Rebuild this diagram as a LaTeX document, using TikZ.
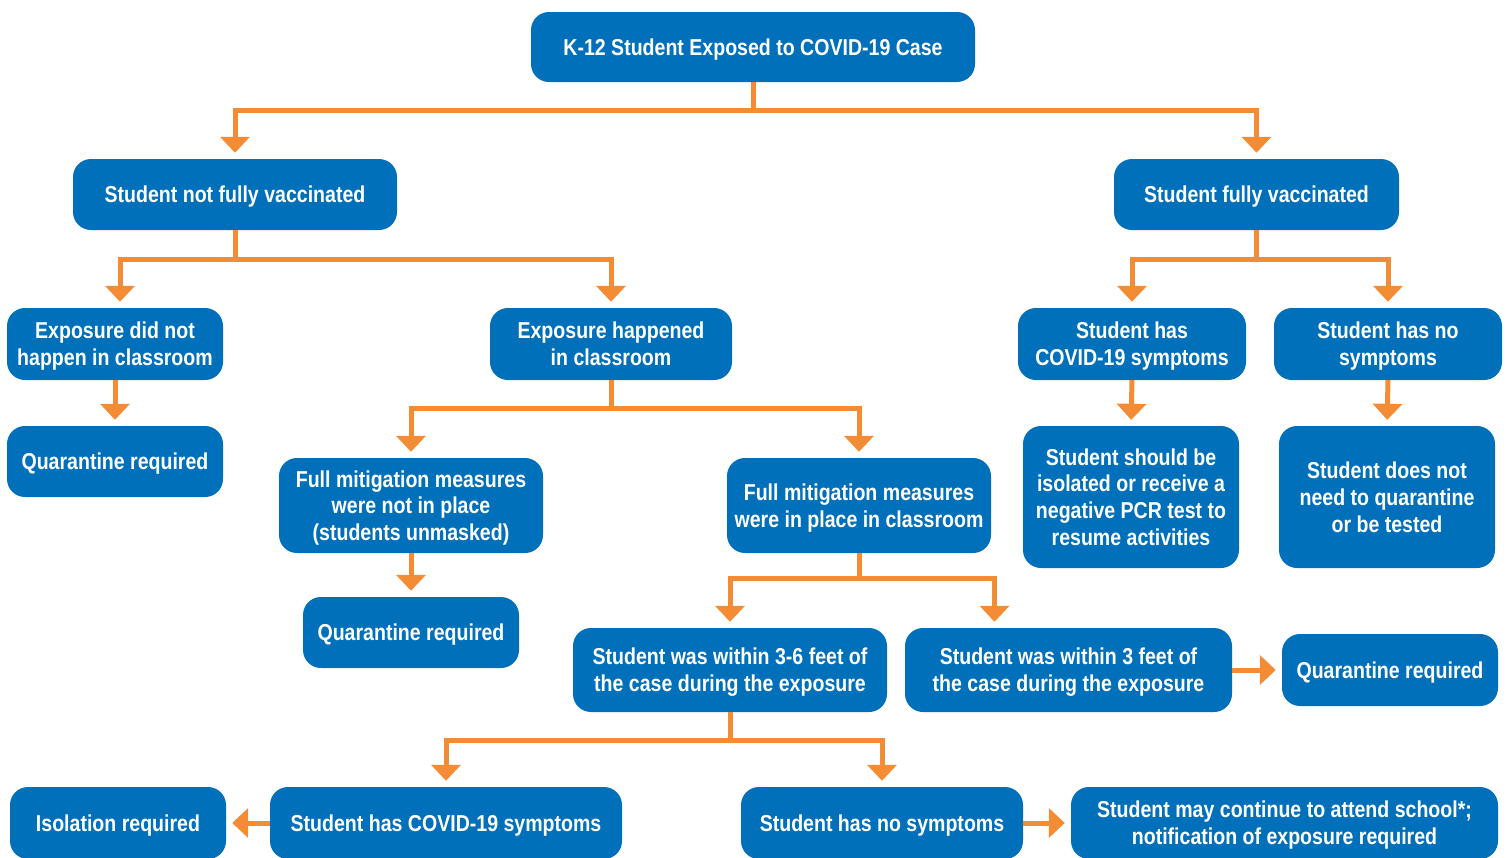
\documentclass[tikz,border=0pt]{standalone}
\usepackage{fontspec}
\setmainfont{Liberation Sans}[FakeStretch=0.85]
\usetikzlibrary{arrows.meta}
\definecolor{boxblue}{RGB}{0,112,186}
\definecolor{lineorange}{RGB}{244,140,54}
\tikzset{
  box/.style={fill=boxblue, rounded corners=18pt, text=white, align=center, inner sep=0pt,
    text depth=0pt, font=\fontsize{23}{26.7}\selectfont\bfseries},
  conn/.style={draw=lineorange, line width=5pt, -{Triangle[width=29pt,length=16pt]}, shorten >=6pt},
}
\begin{document}
\begin{tikzpicture}[x=1pt,y=-1pt]
\useasboundingbox (0,0) rectangle (1507,857);
\clip (0,0) rectangle (1507,857);
% nodes
\node[box, minimum width=444pt, minimum height=70pt] (top) at (753,47) {K-12 Student Exposed to COVID-19 Case};
\node[box, minimum width=324pt, minimum height=71pt] (nfv) at (235,194.5) {Student not fully vaccinated};
\node[box, minimum width=285pt, minimum height=71pt] (fv) at (1256.5,194.5) {Student fully vaccinated};
\node[box, minimum width=216pt, minimum height=72pt] (notcls) at (115,344) {Exposure did not\\happen in classroom};
\node[box, minimum width=216pt, minimum height=71pt] (q1) at (115,461.5) {Quarantine required};
\node[box, minimum width=242pt, minimum height=72pt] (cls) at (611,344) {Exposure happened\\in classroom};
\node[box, minimum width=264pt, minimum height=95pt] (fmn) at (411,505.5) {Full mitigation measures\\were not in place\\(students unmasked)};
\node[box, minimum width=216pt, minimum height=71pt] (q2) at (411,632.5) {Quarantine required};
\node[box, minimum width=264pt, minimum height=95pt] (fmy) at (859,505.5) {Full mitigation measures\\were in place in classroom};
\node[box, minimum width=314pt, minimum height=84pt] (f36) at (730,670) {Student was within 3-6 feet of\\the case during the exposure};
\node[box, minimum width=327pt, minimum height=84pt] (f3) at (1068.5,670) {Student was within 3 feet of\\the case during the exposure};
\node[box, minimum width=216pt, minimum height=72pt] (q3) at (1390,670) {Quarantine required};
\node[box, minimum width=216pt, minimum height=72pt] (iso) at (118,823) {Isolation required};
\node[box, minimum width=352pt, minimum height=72pt] (sym) at (446,823) {Student has COVID-19 symptoms};
\node[box, minimum width=282pt, minimum height=72pt] (nosym) at (882,823) {Student has no symptoms};
\node[box, minimum width=427pt, minimum height=72pt] (cont) at (1284.5,823) {Student may continue to attend school*;\\notification of exposure required};
\node[box, minimum width=228pt, minimum height=72pt] (rsym) at (1132,344) {Student has\\COVID-19 symptoms};
\node[box, minimum width=228pt, minimum height=72pt] (rnos) at (1388,344) {Student has no\\symptoms};
\node[box, minimum width=216pt, minimum height=142pt] (iso2) at (1131,497) {Student should be\\isolated or receive a\\negative PCR test to\\resume activities};
\node[box, minimum width=216pt, minimum height=142pt] (noq) at (1387,497) {Student does not\\need to quarantine\\or be tested};
% connectors
\draw[conn] (top.south) -- ++(0,28) -| (nfv.north);
\draw[conn] (top.south) -- ++(0,28) -| (fv.north);
\draw[conn] (nfv.south) -- ++(0,29) -| ([xshift=5pt]notcls.north);
\draw[conn] (nfv.south) -- ++(0,29) -| (cls.north);
\draw[conn] (notcls.south) -- (q1.north);
\draw[conn] (cls.south) -- ++(0,28) -| (fmn.north);
\draw[conn] (cls.south) -- ++(0,28) -| (fmy.north);
\draw[conn] (fmn.south) -- (q2.north);
\draw[conn] (fmy.south) -- ++(0,25) -| (f36.north);
\draw[conn] (fmy.south) -- ++(0,25) -| ([xshift=-74pt]f3.north);
\draw[conn] (f3.east) -- (q3.west);
\draw[conn] (f36.south) -- ++(0,28) -| (sym.north);
\draw[conn] (f36.south) -- ++(0,28) -| (nosym.north);
\draw[conn] (sym.west) -- (iso.east);
\draw[conn] (nosym.east) -- (cont.west);
\draw[conn] (fv.south) -- ++(0,29) -| (rsym.north);
\draw[conn] (fv.south) -- ++(0,29) -| (rnos.north);
\draw[conn] (rsym.south) -- (iso2.north);
\draw[conn] (rnos.south) -- (noq.north);
\end{tikzpicture}
\end{document}
